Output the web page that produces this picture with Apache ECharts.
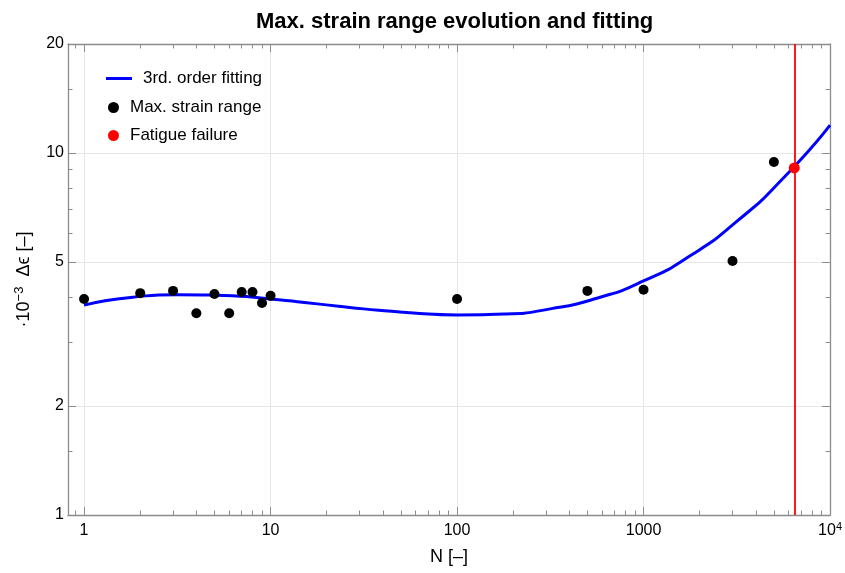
<!DOCTYPE html>
<html>
<head>
<meta charset="utf-8">
<title>Max. strain range evolution and fitting</title>
<script src="https://cdn.jsdelivr.net/npm/echarts@6/dist/echarts.min.js"></script>
<style>
  html, body { margin: 0; padding: 0; background: #fff; }
  #chart { width: 845px; height: 573px; }
</style>
</head>
<body>
<div id="chart"></div>
<script>
// measured max. strain range (x 10^-3) against number of cycles
const cycles = [1, 2, 3, 4, 5, 6, 7, 8, 9, 10, 100, 500, 1000, 3000, 5000]
const strainRange = [3.95, 4.10, 4.16, 3.61, 4.08, 3.61, 4.13, 4.13, 3.85, 4.03, 3.95, 4.16, 4.19, 5.03, 9.44]

// points (quarter decade steps)
const fitCycles = [1, 1.78, 3.16, 5.62, 10, 17.8, 31.6, 56.2, 100, 178, 316, 562, 1000, 1778, 3162, 5623, 10000]
const fitStrain = [3.80, 3.99, 4.06, 4.04, 3.95, 3.83, 3.71, 3.62, 3.57, 3.59, 3.71, 3.97, 4.43, 5.20, 6.47, 8.53, 11.94]

// fatigue failure
const failureCycles = 6430
const failureStrain = 9.09

// ticks
const xMajor = [1, 10, 100, 1000, 10000]
const xMinor = [0.9, 2, 3, 4, 5, 6, 7, 8, 9, 20, 30, 40, 50, 60, 70, 80, 90,
  200, 300, 400, 500, 600, 700, 800, 900, 2000, 3000, 4000, 5000, 6000, 7000, 8000, 9000]
const yMajor = [1, 2, 5, 10, 20]
const yMinor = [1.5, 3, 4, 6, 7, 8, 9, 15]

const frameColor = '#8c8c8c'
const font = 'Liberation Sans, Arial, sans-serif'

function xAxis(position, ticks, len, extra) {
  return Object.assign({
    type: 'log',
    position: position,
    min: 0.82,
    max: 10000,
    axisLine: { show: len > 5, lineStyle: { color: frameColor, width: 1.3 } },
    axisTick: { inside: true, length: len, customValues: ticks, lineStyle: { color: frameColor } },
    axisLabel: { show: false },
    splitLine: { show: false }
  }, extra || {})
}

function yAxis(position, ticks, len, extra) {
  return Object.assign({
    type: 'log',
    position: position,
    min: 1,
    max: 20,
    axisLine: { show: len > 5, lineStyle: { color: frameColor, width: 1.3 } },
    axisTick: { inside: true, length: len, customValues: ticks, lineStyle: { color: frameColor } },
    axisLabel: { show: false },
    splitLine: { show: false }
  }, extra || {})
}

const chart = echarts.init(document.getElementById('chart'))

chart.setOption({
  animation: false,
  textStyle: { fontFamily: font },
  title: {
    text: 'Max. strain range evolution and fitting',
    left: 251,
    top: 6,
    textStyle: { fontSize: 22, fontWeight: 'bold', color: '#000', fontFamily: font }
  },
  legend: [
    {
      data: ['3rd. order fitting'],
      left: 106,
      top: 70,
      padding: 0,
      icon: 'rect',
      itemWidth: 26,
      itemHeight: 3,
      textStyle: { fontSize: 17, lineHeight: 17, color: '#000', fontFamily: font, padding: [0, 0, 0, 6] }
    },
    {
      data: ['Max. strain range', 'Fatigue failure'],
      orient: 'vertical',
      left: 108,
      top: 99,
      padding: 0,
      icon: 'circle',
      itemWidth: 11,
      itemHeight: 11,
      itemGap: 11,
      textStyle: { fontSize: 17, lineHeight: 17, color: '#000', fontFamily: font, padding: [0, 0, 0, 6] }
    }
  ],
  grid: { left: 68, right: 14, top: 44, bottom: 58 },
  xAxis: [
    xAxis('bottom', xMajor, 8, {
      name: 'N [–]',
      nameLocation: 'middle',
      nameGap: 33,
      nameTextStyle: { fontSize: 18, color: '#000', fontFamily: font },
      axisLabel: {
        show: true,
        customValues: xMajor,
        margin: 6,
        color: '#000',
        fontSize: 16,
        formatter: function (v) {
          return v === 10000 ? '{b|10}{s|4}' : '{b|' + v + '}'
        },
        rich: {
          b: { fontSize: 16, color: '#000', fontFamily: font, lineHeight: 20 },
          s: { fontSize: 11, color: '#000', fontFamily: font, verticalAlign: 'top', lineHeight: 20 }
        }
      },
      splitLine: { show: true, lineStyle: { color: '#e6e6e6', width: 1 } }
    }),
    xAxis('bottom', xMinor, 4.5),
    xAxis('top', xMajor, 8),
    xAxis('top', xMinor, 4.5)
  ],
  yAxis: [
    yAxis('left', yMajor, 8, {
      name: '{a|·10}{s|−3}{a|  Δϵ [–]}',
      nameLocation: 'middle',
      nameGap: 33,
      nameRotate: 90,
      nameTextStyle: {
        rich: {
          a: { fontSize: 18, color: '#000', fontFamily: font, lineHeight: 22 },
          s: { fontSize: 13, color: '#000', fontFamily: font, verticalAlign: 'top', lineHeight: 22 }
        }
      },
      axisLabel: {
        show: true,
        customValues: yMajor,
        margin: 4,
        color: '#000',
        fontSize: 16
      },
      splitLine: { show: true, lineStyle: { color: '#e6e6e6', width: 1 } }
    }),
    yAxis('left', yMinor, 4.5),
    yAxis('right', yMajor, 8),
    yAxis('right', yMinor, 4.5)
  ],
  series: [
    {
      name: '3rd. order fitting',
      type: 'line',
      data: fitCycles.map((n, i) => [n, fitStrain[i]]),
      smooth: 0.6,
      showSymbol: false,
      lineStyle: { color: '#0000ff', width: 3 },
      itemStyle: { color: '#0000ff' },
      z: 3
    },
    {
      name: 'Max. strain range',
      type: 'scatter',
      data: cycles.map((n, i) => [n, strainRange[i]]),
      symbolSize: 10,
      itemStyle: { color: '#000', opacity: 1 },
      z: 4
    },
    {
      name: 'Fatigue failure',
      type: 'scatter',
      data: [[failureCycles, failureStrain]],
      symbolSize: 11,
      itemStyle: { color: '#ff0000', opacity: 1 },
      z: 5,
      markLine: {
        silent: true,
        symbol: 'none',
        label: { show: false },
        lineStyle: { color: '#ff0000', width: 1.8, type: 'solid' },
        data: [{ xAxis: failureCycles }]
      }
    }
  ]
})
</script>
</body>
</html>
